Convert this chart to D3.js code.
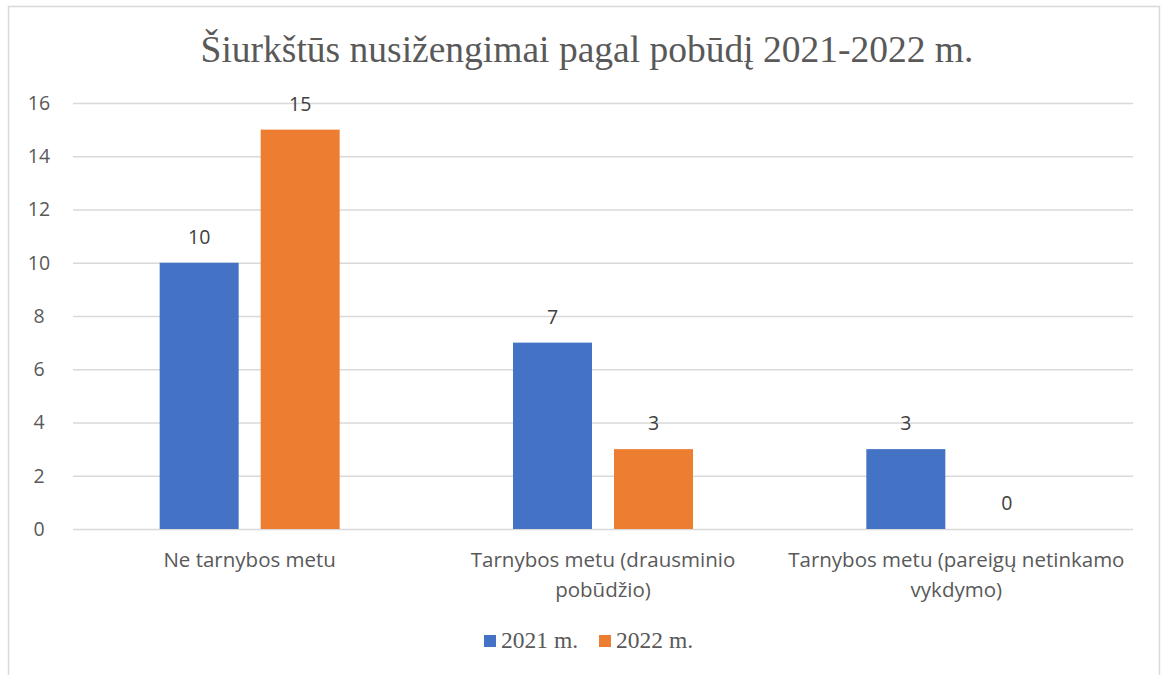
<!DOCTYPE html>
<html>
<head>
<meta charset="utf-8">
<script src="https://cdn.jsdelivr.net/npm/d3@7"></script>
<style>
  body { margin: 0; background: #fff; }
  svg { display: block; }
</style>
</head>
<body>
<div class="content"></div>
<script>
// Chart data
var categories = ["Ne tarnybos metu", "Tarnybos metu (drausminio pobūdžio)", "Tarnybos metu (pareigų netinkamo vykdymo)"];
var categoryLines = [
  ["Ne tarnybos metu"],
  ["Tarnybos metu (drausminio", "pobūdžio)"],
  ["Tarnybos metu (pareigų netinkamo", "vykdymo)"]
];
var seriesNames = ["2021 m.", "2022 m."];
var values2021 = [10, 7, 3];
var values2022 = [15, 3, 0];
var yTicks = [0, 2, 4, 6, 8, 10, 12, 14, 16];
var colors = ["#4472C4", "#ED7D31"];
var title = "Šiurkštūs nusižengimai pagal pobūdį 2021-2022 m.";

var svgWidth = 1165;
var svgHeight = 675;

var margin = { top: 103, right: 32, bottom: 146, left: 73 };
var width = svgWidth - margin.left - margin.right;
var height = svgHeight - margin.top - margin.bottom;

var sansFont = "'Open Sans', sans-serif";
var serifFont = "'Liberation Serif', 'Times New Roman', serif";

var svg = d3.select(".content")
  .append("svg")
  .attr("width", svgWidth)
  .attr("height", svgHeight);

// outer frame (bottom edge runs past the picture)
svg.append("rect")
  .attr("x", 8.5)
  .attr("y", 6.5)
  .attr("width", 1151)
  .attr("height", 700)
  .attr("fill", "none")
  .attr("stroke", "#D9D9D9")
  .attr("stroke-width", 1.5);

// title
svg.append("text")
  .attr("x", 587)
  .attr("y", 62)
  .attr("text-anchor", "middle")
  .style("font-family", serifFont)
  .style("font-size", "37.5px")
  .attr("fill", "#595959")
  .text(title);

var chartGroup = svg.append("g")
  .attr("transform", `translate(${margin.left}, ${margin.top})`);

var data = categories.map(function(c, i) {
  return { category: c, lines: categoryLines[i], values: [values2021[i], values2022[i]] };
});

var x0 = d3.scaleBand()
  .domain(categories)
  .range([0, width])
  .padding(0);

var groupWidth = 180;
var x1 = d3.scaleBand()
  .domain(seriesNames)
  .range([0, groupWidth])
  .paddingInner(22 / 101);

var yLinearScale = d3.scaleLinear()
  .domain([0, 16])
  .range([height, 0]);

// gridlines + tick labels
var leftAxis = d3.axisLeft(yLinearScale)
  .tickValues(yTicks)
  .tickSize(-width)
  .tickFormat(d3.format("d"));

var yAxis = chartGroup.append("g")
  .call(leftAxis);
yAxis.select(".domain").remove();
yAxis.selectAll(".tick line")
  .attr("stroke", "#D9D9D9")
  .attr("stroke-width", 1.5);
yAxis.selectAll(".tick text")
  .attr("fill", "#595959")
  .style("font-family", sansFont)
  .style("font-size", "19.5px")
  .attr("text-anchor", "middle")
  .attr("x", -34);

// bars
var groups = chartGroup.selectAll(".group")
  .data(data)
  .enter()
  .append("g")
  .attr("class", "group")
  .attr("transform", d => `translate(${x0(d.category) + x0.bandwidth() / 2 - groupWidth / 2}, 0)`);

groups.selectAll("rect")
  .data(d => d.values.map((v, i) => ({ name: seriesNames[i], value: v, idx: i })))
  .enter()
  .append("rect")
  .attr("x", d => x1(d.name))
  .attr("y", d => yLinearScale(d.value))
  .attr("width", x1.bandwidth())
  .attr("height", d => height - yLinearScale(d.value))
  .attr("fill", d => colors[d.idx]);

// data labels
groups.selectAll(".label")
  .data(d => d.values.map((v, i) => ({ name: seriesNames[i], value: v })))
  .enter()
  .append("text")
  .attr("class", "label")
  .attr("x", d => x1(d.name) + x1.bandwidth() / 2)
  .attr("y", d => yLinearScale(d.value) - 19)
  .attr("text-anchor", "middle")
  .style("font-family", sansFont)
  .style("font-size", "19.5px")
  .attr("fill", "#404040")
  .text(d => d.value);

// category labels
var catLabels = chartGroup.selectAll(".cat")
  .data(data)
  .enter()
  .append("text")
  .attr("class", "cat")
  .attr("text-anchor", "middle")
  .attr("transform", d => `translate(${x0(d.category) + x0.bandwidth() / 2}, ${height + 38})`)
  .style("font-family", sansFont)
  .style("font-size", "20.5px")
  .attr("fill", "#595959");

catLabels.selectAll("tspan")
  .data(d => d.lines)
  .enter()
  .append("tspan")
  .attr("x", 0)
  .attr("y", (d, i) => i * 30)
  .text(d => d);

// legend
var legend = svg.append("g")
  .attr("transform", "translate(484, 648)");

var legendX = [0, 115];
var items = legend.selectAll(".item")
  .data(seriesNames)
  .enter()
  .append("g")
  .attr("transform", (d, i) => `translate(${legendX[i]}, 0)`);

items.append("rect")
  .attr("x", 0)
  .attr("y", -13)
  .attr("width", 12)
  .attr("height", 12)
  .attr("fill", (d, i) => colors[i]);

items.append("text")
  .attr("x", 17)
  .attr("y", 0)
  .style("font-family", serifFont)
  .style("font-size", "23.5px")
  .attr("fill", "#595959")
  .text(d => d);
</script>
</body>
</html>
